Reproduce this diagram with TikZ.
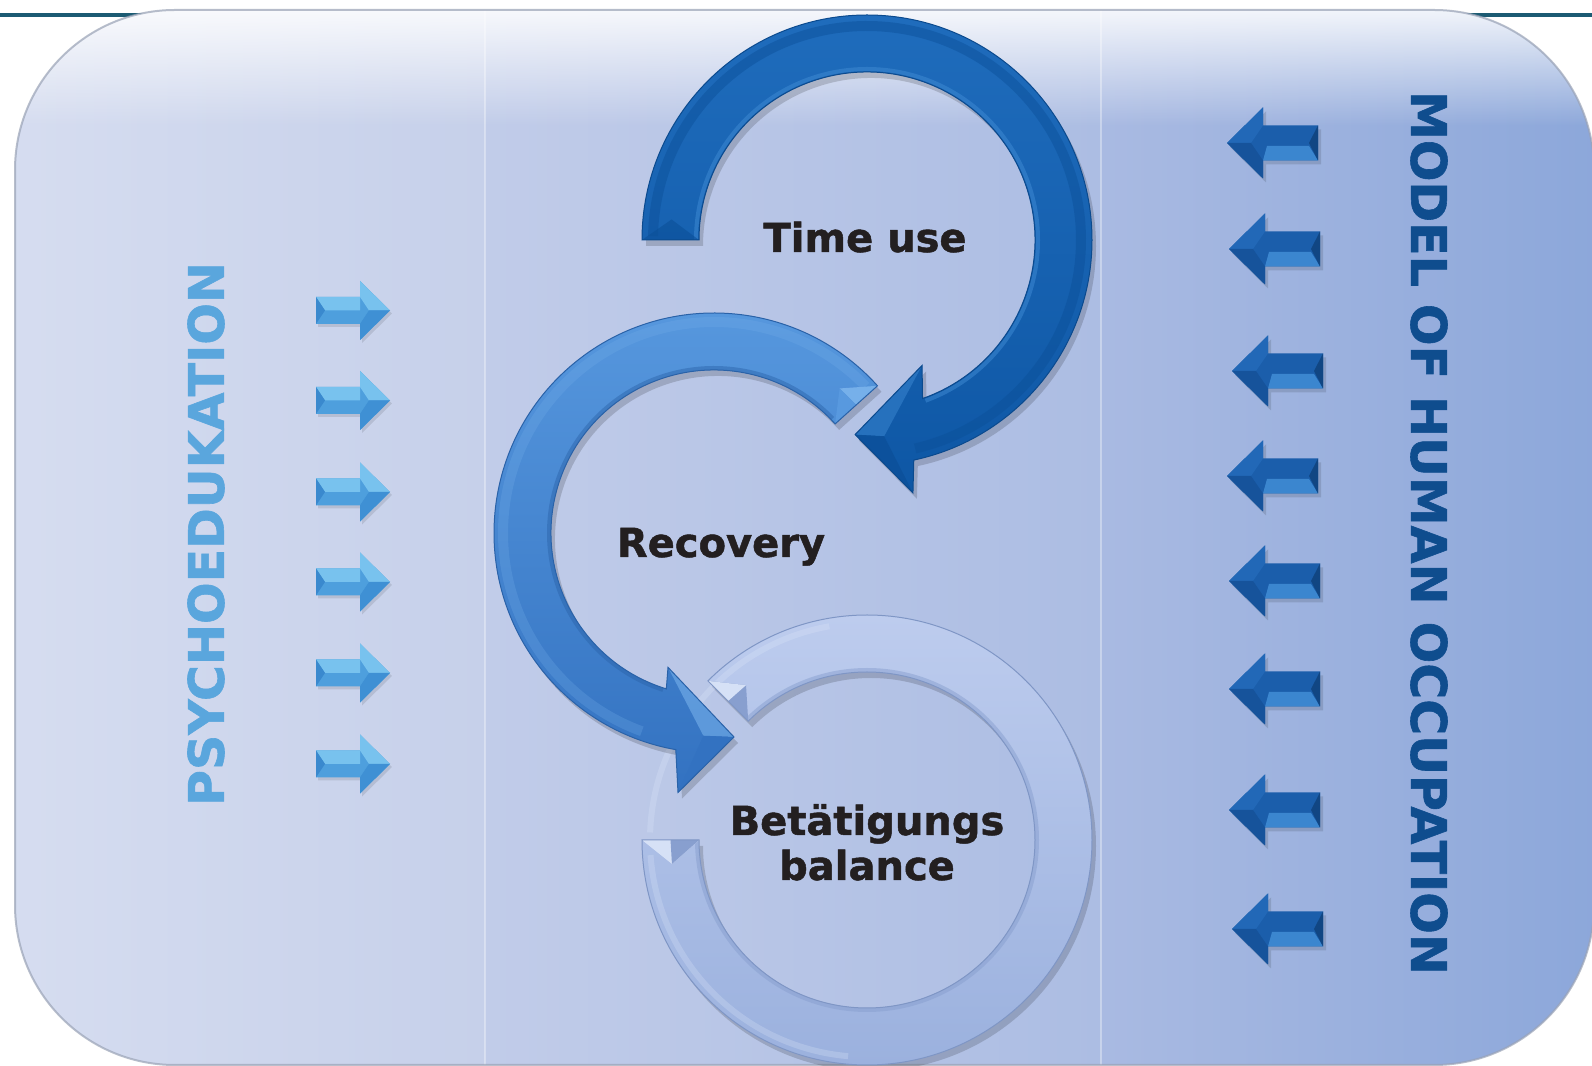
\documentclass[tikz,border=0pt]{standalone}
\usepackage{fontspec}
\setmainfont{DejaVu Sans}[BoldFeatures={FakeBold=1.2}]
\usetikzlibrary{fadings}
\definecolor{pAl}{HTML}{D6DDF0}
\definecolor{pAr}{HTML}{C6D0EA}
\definecolor{pBl}{HTML}{C1CCE9}
\definecolor{pBr}{HTML}{ACBDE3}
\definecolor{pCl}{HTML}{A9BAE2}
\definecolor{pCr}{HTML}{8CA7DA}
\definecolor{tealline}{HTML}{1C5B73}
\definecolor{rimgray}{HTML}{9AA3B6}
\definecolor{rAtop}{HTML}{1F6CBC}
\definecolor{rAbot}{HTML}{0E57A5}
\definecolor{rAedge}{HTML}{0B4A8E}
\definecolor{rAdark}{HTML}{0B4F98}
\definecolor{rAlight}{HTML}{3C88D2}
\definecolor{rBtop}{HTML}{5899DF}
\definecolor{rBbot}{HTML}{3372C1}
\definecolor{rBedge}{HTML}{2A62A8}
\definecolor{rBlight}{HTML}{76B0EA}
\definecolor{rCtop}{HTML}{BDCCEE}
\definecolor{rCbot}{HTML}{9BB1DE}
\definecolor{rCedge}{HTML}{7F96C5}
\definecolor{rClight}{HTML}{D6E1F6}
\definecolor{rCdark}{HTML}{889FCF}
\definecolor{psycho}{HTML}{5AA6DD}
\definecolor{moho}{HTML}{0F4D8E}
\definecolor{labelink}{HTML}{231F20}
\definecolor{laBaseC}{HTML}{4E9FDD}
\definecolor{laTopC}{HTML}{78C2EE}
\definecolor{laLowC}{HTML}{3F90D4}
\definecolor{laCapC}{HTML}{3A89CE}
\definecolor{daBaseC}{HTML}{1B5EAB}
\definecolor{daLowC}{HTML}{3B86CF}
\definecolor{daCapC}{HTML}{114683}
\definecolor{daUpC}{HTML}{2268B7}
\definecolor{daDownC}{HTML}{16539B}
\tikzfading[name=glossfade, top color=transparent!12, bottom color=transparent!100]
\def\ringApath{(180:225) arc[start angle=180, end angle=-78, radius=225] -- (-79.7:257) -- (-93.5:195) -- (-66.3:137) -- (-70.7:168) arc[start angle=-70.7, end angle=180, radius=168] -- cycle}
\def\ringBpath{(42:220) arc[start angle=42, end angle=260, radius=220] -- (262.1:262) -- (275.6:205) -- (251.1:142) -- (253:163) arc[start angle=253, end angle=42, radius=163] -- cycle}
\def\ringCpath{(180:225) arc[start angle=180, end angle=495, radius=225] -- (135:168) arc[start angle=495, end angle=180, radius=168] -- cycle}
\tikzset{
  labeltext/.style={font=\fontsize{20}{24}\selectfont\bfseries, text=labelink, inner sep=0pt},
  sidetext/.style={font=\fontsize{24.5}{28}\selectfont\bfseries, inner sep=0pt},
  ringshadow/.style={fill=black, opacity=0.16},
  laBase/.style={fill=laBaseC}, laTop/.style={fill=laTopC}, laLow/.style={fill=laLowC}, laCap/.style={fill=laCapC},
  daBase/.style={fill=daBaseC}, daLow/.style={fill=daLowC}, daCap/.style={fill=daCapC}, daUp/.style={fill=daUpC}, daDown/.style={fill=daDownC},
  lightarr/.pic={
    \fill[black, opacity=0.10] (2,-16.5) -- (46,-16.5) -- (46,-32.5) -- (76,-3) -- (46,26.5) -- (46,10.5) -- (2,10.5) -- cycle;
    \fill[laBase] (0,-13.5) -- (44,-13.5) -- (44,-29.5) -- (74,0) -- (44,29.5) -- (44,13.5) -- (0,13.5) -- cycle;
    \fill[laTop] (0,13.5) -- (44,13.5) -- (44,0) -- (9,0) -- cycle;
    \fill[laTop] (44,29.5) -- (74,0) -- (53,0) -- (44,13.5) -- cycle;
    \fill[laCap] (0,13.5) -- (9,0) -- (0,-13.5) -- cycle;
    \fill[laLow] (44,-29.5) -- (74,0) -- (53,0) -- (44,-13.5) -- cycle;
  },
  darkarr/.pic={
    \fill[black, opacity=0.12] (3,-4) -- (39,31.5) -- (39,13.5) -- (94,13.5) -- (94,-21.5) -- (39,-21.5) -- (39,-39.5) -- cycle;
    \fill[daBase] (0,0) -- (36,35.5) -- (36,17.5) -- (91,17.5) -- (91,-17.5) -- (36,-17.5) -- (36,-35.5) -- cycle;
    \fill[daLow] (36,-17.5) -- (91,-17.5) -- (82,-3) -- (40,-3) -- cycle;
    \fill[daUp] (0,0) -- (36,35.5) -- (36,17.5) -- (24,0) -- cycle;
    \fill[daDown] (0,0) -- (36,-35.5) -- (36,-17.5) -- (24,0) -- cycle;
    \fill[daCap] (91,17.5) -- (82,0) -- (91,-17.5) -- cycle;
  }
}
\begin{document}
\begin{tikzpicture}[x=0.5pt,y=0.5pt]
\useasboundingbox (0,0) rectangle (1592,1066);
\fill[white] (0,0) rectangle (1592,1066);
\draw[tealline, line width=2pt] (0,1051) -- (1592,1051);
% background panels
\begin{scope}
  \clip[rounded corners=80pt] (15,1) rectangle (1594,1056);
  \shade[left color=pAl, right color=pAr] (0,0) rectangle (485,1066);
  \shade[left color=pBl, right color=pBr] (485,0) rectangle (1101,1066);
  \shade[left color=pCl, right color=pCr] (1101,0) rectangle (1600,1066);
  \fill[white, path fading=glossfade] (0,940) rectangle (1600,1057);
  \draw[white, opacity=0.35, line width=0.8pt] (485,0) -- (485,1066);
  \draw[white, opacity=0.35, line width=0.8pt] (1101,0) -- (1101,1066);
\end{scope}
\draw[rimgray, opacity=0.7, line width=1pt, rounded corners=80pt] (15,1) rectangle (1594,1056);
% ring 3: Betaetigungs balance
\begin{scope}[shift={(867,226)}]
  \fill[ringshadow, shift={(4,-6)}] \ringCpath;
  \shade[top color=rCtop, bottom color=rCbot] \ringCpath;
  \draw[rClight, opacity=0.35, line width=3pt] (100:217) arc[start angle=100, end angle=178, radius=217];
  \draw[rClight, opacity=0.3, line width=3pt] (184:217) arc[start angle=184, end angle=265, radius=217];
  \draw[rCdark, opacity=0.5, line width=2pt] (180:170) arc[start angle=180, end angle=495, radius=170];
  \fill[rClight] (180:225) -- (187:196.5) -- (180:168) -- cycle;
  \fill[rCdark] (180:196.5) -- (187:196.5) -- (180:168) -- cycle;
  \fill[rCdark] (135:225) -- (128:196.5) -- (135:168) -- cycle;
  \fill[rClight] (135:225) -- (128:196.5) -- (135:196.5) -- cycle;
  \draw[rCedge, line width=0.5pt] \ringCpath;
\end{scope}
% ring 2: Recovery
\begin{scope}[shift={(714,533)}]
  \fill[ringshadow, shift={(4,-6)}] \ringBpath;
  \shade[top color=rBtop, bottom color=rBbot] \ringBpath;
  \draw[rBlight, opacity=0.25, line width=5pt] (44:211) arc[start angle=44, end angle=250, radius=211];
  \draw[rBedge, opacity=0.45, line width=2pt] (44:165) arc[start angle=44, end angle=252, radius=165];
  \fill[rBlight] (42:220) -- (49:191.5) -- (42:191.5) -- cycle;
  \fill[rBtop] (42:191.5) -- (49:191.5) -- (42:163) -- cycle;
  \fill[rBlight, opacity=0.6] (251.1:142) -- (275.6:205) -- (267:203) -- cycle;
  \fill[rBbot] (262.1:262) -- (275.6:205) -- (267:203) -- cycle;
  \draw[rBedge, line width=0.5pt] \ringBpath;
\end{scope}
% ring 1: Time use
\begin{scope}[shift={(867,826)}]
  \fill[ringshadow, shift={(4,-6)}] \ringApath;
  \shade[top color=rAtop, bottom color=rAbot] \ringApath;
  \draw[rAdark, opacity=0.45, line width=5pt] (179:214) arc[start angle=179, end angle=-77, radius=214];
  \draw[rAlight, opacity=0.55, line width=2pt] (180:171) arc[start angle=180, end angle=-70, radius=171];
  \fill[rAdark, opacity=0.6] (180:225) -- (174:196.5) -- (180:168) -- cycle;
  \fill[rAlight, opacity=0.5] (-66.3:137) -- (-93.5:195) -- (-85:197) -- cycle;
  \fill[rAdark, opacity=0.7] (-79.7:257) -- (-93.5:195) -- (-85:197) -- cycle;
  \draw[rAedge, line width=0.5pt] \ringApath;
\end{scope}
% labels
\node[labeltext, anchor=base] (timeuse) at (865,814) {Time use};
\node[labeltext, anchor=base] (recovery) at (721,509) {Recovery};
\node[labeltext, anchor=base] (betaet) at (867,231) {Betätigungs};
\node[labeltext, anchor=base] (balance) at (867,186) {balance};
\node[sidetext, text=psycho, rotate=90] (psy) at (206,532) {PSYCHOEDUKATION};
\node[sidetext, text=moho, rotate=-90] (moho) at (1429,533) {MODEL OF HUMAN OCCUPATION};
% small arrows left (pointing right)
\foreach \yy in {755.5,665.5,574,484,393,302}{\pic at (316,\yy) {lightarr};}
% small arrows right (pointing left)
\foreach \xx/\yy in {1227/923,1229/817,1232/695,1227/590,1229/485,1229/377,1229/256,1232/137}{\pic at (\xx,\yy) {darkarr};}
\end{tikzpicture}
\end{document}
